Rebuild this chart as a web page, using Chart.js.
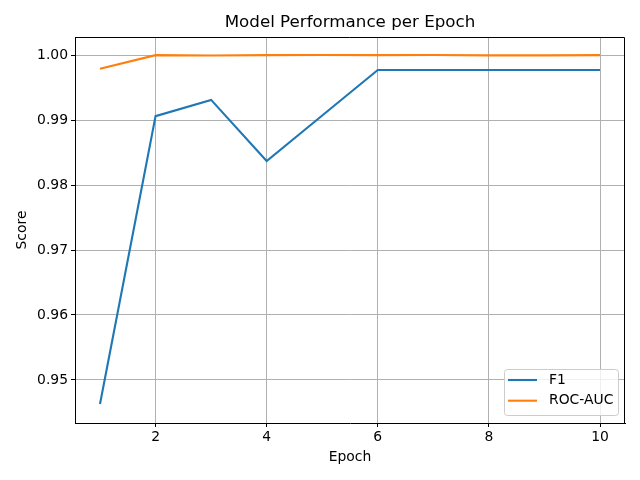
<!DOCTYPE html>
<html>
<head>
<meta charset="utf-8">
<script src="https://cdn.jsdelivr.net/npm/chart.js@4"></script>
<style>
  html, body { margin: 0; padding: 0; background: #fff; }
  #wrap { width: 640px; height: 480px; }
</style>
</head>
<body>
<div id="wrap"><canvas id="perfChart" width="640" height="480"></canvas></div>
<script>
// Data
const epochs = [1, 2, 3, 4, 5, 6, 7, 8, 9, 10];
const f1Scores = [0.9463, 0.9906, 0.9931, 0.9837, 0.9907, 0.9977, 0.9977, 0.9977, 0.9977, 0.9977];
const rocAucScores = [0.9979, 0.99998, 0.99993, 0.99998, 1.0000, 0.99998, 1.0000, 0.99995, 0.99995, 0.99998];
const xTicks = [2, 4, 6, 8, 10];
const yTicks = [0.95, 0.96, 0.97, 0.98, 0.99, 1.00];

const FONT = 'DejaVu Sans';

// Top/right spines + legend drawn inside the plot (lower right)
const framePlugin = {
    id: 'frame',
    afterDraw(chart) {
        const { ctx, chartArea: a } = chart;
        const top = chart.scales.y.getPixelForValue(chart.scales.y.max);
        const right = chart.scales.x.getPixelForValue(chart.scales.x.max);
        const left = chart.scales.x.getPixelForValue(chart.scales.x.min);
        const bottom = chart.scales.y.getPixelForValue(chart.scales.y.min);
        ctx.save();
        ctx.strokeStyle = '#000';
        ctx.lineWidth = 1;
        ctx.beginPath();
        ctx.moveTo(left, Math.round(top) + 0.5);
        ctx.lineTo(Math.round(right) - 0.5, Math.round(top) + 0.5);
        ctx.lineTo(Math.round(right) - 0.5, bottom);
        ctx.stroke();

        // legend box
        const w = 114, h = 46;
        const x = a.right - 7 - w, y = a.bottom - 8 - h;
        ctx.beginPath();
        ctx.roundRect(x + 0.5, y + 0.5, w, h, 3);
        ctx.fillStyle = 'rgba(255,255,255,0.8)';
        ctx.fill();
        ctx.strokeStyle = '#cccccc';
        ctx.stroke();
        ctx.font = '13.9px ' + FONT;
        ctx.textBaseline = 'middle';
        chart.data.datasets.forEach((ds, i) => {
            const ly = y + 11 + i * 20.7;
            ctx.strokeStyle = ds.borderColor;
            ctx.lineWidth = 2.1;
            ctx.beginPath();
            ctx.moveTo(x + 4, ly);
            ctx.lineTo(x + 33, ly);
            ctx.stroke();
            ctx.fillStyle = '#000';
            ctx.fillText(ds.label, x + 45, ly);
        });
        ctx.restore();
    }
};

const canvas = document.getElementById('perfChart');
const ctx = canvas.getContext('2d');

new Chart(ctx, {
    type: 'line',
    data: {
        datasets: [
            {
                label: 'F1',
                data: epochs.map((e, i) => ({ x: e, y: f1Scores[i] })),
                borderColor: '#1f77b4',
                backgroundColor: '#1f77b4',
                borderWidth: 2.1,
                pointRadius: 0,
                tension: 0
            },
            {
                label: 'ROC-AUC',
                data: epochs.map((e, i) => ({ x: e, y: rocAucScores[i] })),
                borderColor: '#ff7f0e',
                backgroundColor: '#ff7f0e',
                borderWidth: 2.1,
                pointRadius: 0,
                tension: 0
            }
        ]
    },
    options: {
        responsive: false,
        animation: false,
        layout: { padding: { left: 0, right: 15, top: 0, bottom: 0 } },
        plugins: {
            legend: { display: false },
            tooltip: { enabled: false },
            title: {
                display: true,
                fullSize: false,
                text: 'Model Performance per Epoch',
                color: '#000',
                font: { family: FONT, size: 16.7, weight: 'normal', lineHeight: 1.2 },
                padding: { top: 13, bottom: 4 }
            }
        },
        scales: {
            x: {
                type: 'linear',
                min: 0.55,
                max: 10.45,
                afterBuildTicks: (s) => { s.ticks = xTicks.map(v => ({ value: v })); },
                afterFit: (s) => { s.height = 57; },
                grid: { color: '#b0b0b0', lineWidth: 1, tickColor: '#000', tickLength: 4, tickWidth: 1 },
                border: { color: '#000', width: 1 },
                ticks: {
                    color: '#000',
                    padding: 2,
                    maxRotation: 0,
                    font: { family: FONT, size: 13.9 },
                    callback: (v) => String(v)
                },
                title: {
                    display: true,
                    text: 'Epoch',
                    color: '#000',
                    font: { family: FONT, size: 13.9, lineHeight: 1.2 },
                    padding: { bottom: 14.7, top: 0 }
                }
            },
            y: {
                type: 'linear',
                min: 0.94338,
                max: 1.00277,
                afterBuildTicks: (s) => { s.ticks = yTicks.map(v => ({ value: v })); },
                afterFit: (s) => { s.width = 75; },
                grid: { color: '#b0b0b0', lineWidth: 1, tickColor: '#000', tickLength: 4, tickWidth: 1 },
                border: { color: '#000', width: 1 },
                ticks: {
                    color: '#000',
                    padding: 3,
                    font: { family: FONT, size: 13.9 },
                    callback: (v) => Number(v).toFixed(2)
                },
                title: {
                    display: true,
                    text: 'Score',
                    color: '#000',
                    font: { family: FONT, size: 13.9, lineHeight: 1.2 },
                    padding: { top: 13.7, bottom: 0 }
                }
            }
        }
    },
    plugins: [framePlugin]
});
</script>
</body>
</html>
